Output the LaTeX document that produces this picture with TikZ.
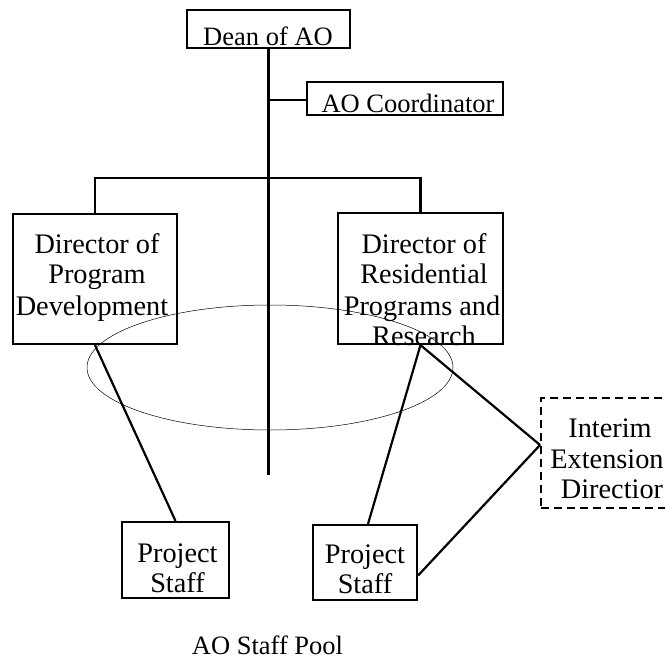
\documentclass[tikz,border=0pt]{standalone}
\usepackage{fontspec}
\setmainfont{Liberation Serif}
\begin{document}
\begin{tikzpicture}[x=1pt,y=-1pt,
  box/.style={draw, line width=2.2pt, inner sep=0pt, minimum width=#1},
  dbox/.style={draw, line width=1.9pt, dash pattern=on 8pt off 5pt, inner sep=0pt, minimum width=#1},
  conn/.style={line width=2.2pt},
  btxt/.style={inner sep=0pt, anchor=base, font=\fontsize{28.3}{31}\selectfont},
  stxt/.style={inner sep=0pt, anchor=base, font=\fontsize{26.5}{30}\selectfont}]
\useasboundingbox (0,0) rectangle (664,668);

% boxes
\node[box=163pt, minimum height=38pt] (dean) at (268.5,29) {};
\node[box=196pt, minimum height=33pt] (coord) at (405,98.5) {};
\node[box=164pt, minimum height=130pt] (ldir) at (95,279) {};
\node[box=165pt, minimum height=131pt] (rdir) at (420.5,278.5) {};
\node[box=107pt, minimum height=76pt] (lps) at (175.5,560) {};
\node[box=104pt, minimum height=75pt] (rps) at (365,562.5) {};
\node[dbox=129pt, minimum height=110pt] (interim) at (605.5,453) {};

% texts
\node[stxt] (tdean) at (268,46) {Dean of AO};
\node[stxt] (tcoord) at (408,113) {AO Coordinator};
\node[btxt] (tl1) at (97,253) {Director of};
\node[btxt] (tl2) at (97,283) {Program};
\node[btxt] (tl3) at (92,315) {Development};
\node[btxt] (tr1) at (424,253) {Director of};
\node[btxt] (tr2) at (424,283) {Residential};
\node[btxt] (tr3) at (422,315) {Programs and};
\node[btxt] (tr4) at (424,345) {Research};
\node[btxt] (tlp1) at (177.5,562) {Project};
\node[btxt] (tlp2) at (177.5,592) {Staff};
\node[btxt] (trp1) at (365,563) {Project};
\node[btxt] (trp2) at (365,593) {Staff};
\node[btxt] (ti1) at (610,437) {Interim};
\node[btxt] (ti2) at (607,468) {Extension};
\node[btxt] (ti3) at (612,498) {Directior};
\node[stxt] (pool) at (267.5,654) {AO Staff Pool};

% trunk and branches
\coordinate (trunkend) at (268.5,475);
\coordinate (jc) at (268.5,100);
\coordinate (barL) at (95,178);
\coordinate (barR) at (420.5,178);
\draw[conn] (dean.south) -- (trunkend);
\draw[conn] (jc) -- (coord.west |- jc);
\draw[conn] (ldir.north) -- (barL) -- (barR) -- (rdir.north);

% lower connectors
\draw[conn] (ldir.south) -- (lps.north);
\draw[conn] (rdir.south) -- ([xshift=3pt]rps.north);
\draw[conn] (rdir.south) -- ([yshift=8pt]interim.west);
\draw[conn] ([yshift=-13pt]rps.east) -- ([yshift=8pt]interim.west);

% staff pool ellipse
\draw[line width=0.5pt] (270,367.5) ellipse [x radius=183, y radius=62.5];
\end{tikzpicture}
\end{document}
